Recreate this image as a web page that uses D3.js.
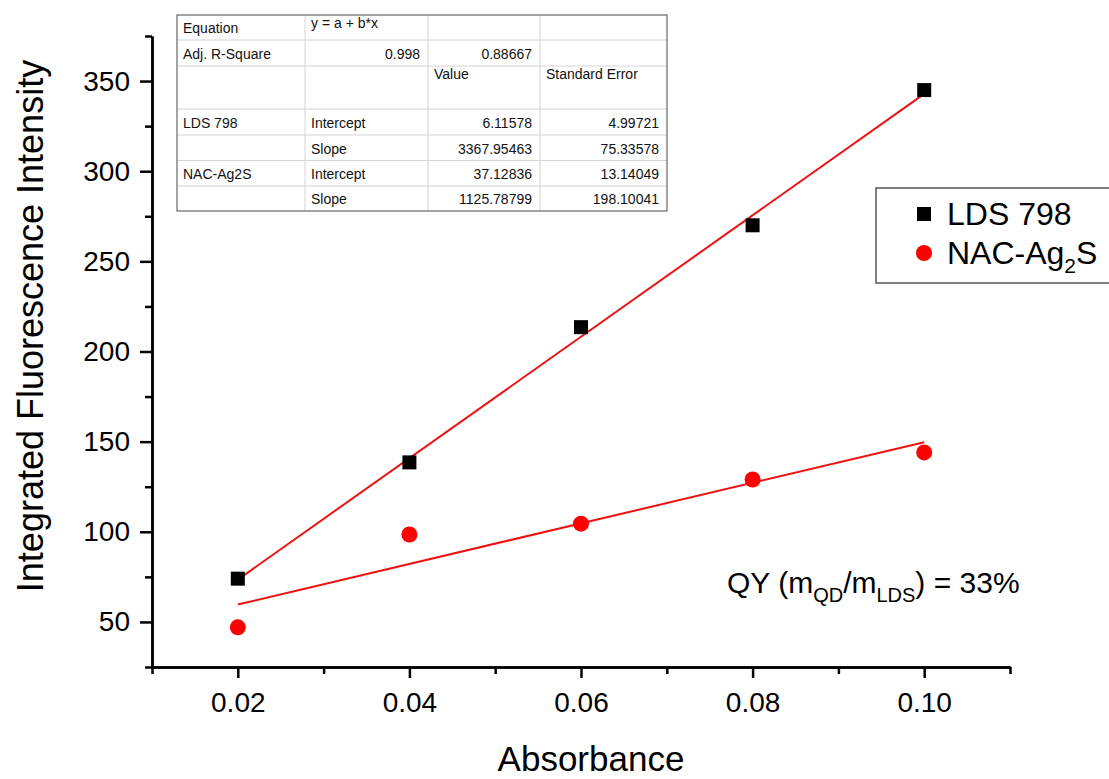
<!DOCTYPE html>
<html lang="en">
<head>
<meta charset="UTF-8">
<title>Integrated fluorescence vs absorbance</title>
<script src="https://cdn.jsdelivr.net/npm/d3@7"></script>
<style>
  body { margin: 0; background: #fff; }
  svg { font-family: "Liberation Sans", Arial, sans-serif; }
</style>
</head>
<body>
<svg width="1109" height="779"></svg>
<script>
// data
var absorbance = [0.02, 0.04, 0.06, 0.08, 0.10];
var lds798 = [74, 138.5, 213.5, 270, 345];
var nacAg2S = [47, 98.5, 104.5, 129, 144];
var seriesNames = ["LDS 798", "NAC-Ag2S"];
var fitIntercept = [6.11578, 37.12836];
var fitSlope = [3367.95463, 1125.78799];
var xMajor = [0.02, 0.04, 0.06, 0.08, 0.10];
var xMinor = [0.01, 0.03, 0.05, 0.07, 0.09, 0.11];
var yMajor = [50, 100, 150, 200, 250, 300, 350];
var yMinor = [25, 75, 125, 175, 225, 275, 325, 375];
var tableRows = [
  ["Equation", "y = a + b*x", "", ""],
  ["Adj. R-Square", "0.998", "0.88667", ""],
  ["", "", "Value", "Standard Error"],
  ["LDS 798", "Intercept", "6.11578", "4.99721"],
  ["", "Slope", "3367.95463", "75.33578"],
  ["NAC-Ag2S", "Intercept", "37.12836", "13.14049"],
  ["", "Slope", "1125.78799", "198.10041"]
];

var svg = d3.select("svg");

var x = d3.scaleLinear().domain([0.01, 0.11]).range([152, 1010]);
var y = d3.scaleLinear().domain([25, 375]).range([667, 36]);

function styleAxis(g) {
  g.selectAll("path").attr("stroke", "#000").attr("stroke-width", 2.5);
  g.selectAll("line").attr("stroke", "#000").attr("stroke-width", 2.5);
  g.selectAll("text").attr("fill", "#000").attr("font-size", 28);
}

// x axis
svg.append("g")
  .attr("transform", "translate(0,667)")
  .call(d3.axisBottom(x).tickValues(xMajor).tickSize(11).tickSizeOuter(0).tickPadding(14)
    .tickFormat(d3.format(".2f")))
  .call(styleAxis);
svg.append("g")
  .attr("transform", "translate(0,667)")
  .call(d3.axisBottom(x).tickValues(xMinor).tickSize(7).tickSizeOuter(0).tickFormat(""))
  .call(styleAxis);

// y axis
svg.append("g")
  .attr("transform", "translate(152,0)")
  .call(d3.axisLeft(y).tickValues(yMajor).tickSize(12).tickSizeOuter(0).tickPadding(10))
  .call(styleAxis);
svg.append("g")
  .attr("transform", "translate(152,0)")
  .call(d3.axisLeft(y).tickValues(yMinor).tickSize(7).tickSizeOuter(0).tickFormat(""))
  .call(styleAxis);

// axis titles
svg.append("text")
  .attr("x", 591).attr("y", 771)
  .attr("text-anchor", "middle")
  .attr("font-size", 35)
  .text("Absorbance");
svg.append("text")
  .attr("transform", "translate(43,326) rotate(-90)")
  .attr("text-anchor", "middle")
  .attr("font-size", 36)
  .text("Integrated Fluorescence Intensity");

// fit lines
fitIntercept.forEach(function (a, i) {
  var ends = [absorbance[0], absorbance[absorbance.length - 1]];
  svg.append("path")
    .datum(ends)
    .attr("d", d3.line().x(function (d) { return x(d); })
      .y(function (d) { return y(a + fitSlope[i] * d); }))
    .attr("stroke", "#ee1111")
    .attr("stroke-width", 2)
    .attr("fill", "none");
});

// points
svg.append("g").selectAll("rect")
  .data(lds798)
  .join("rect")
  .attr("x", function (d, i) { return x(absorbance[i]) - 7; })
  .attr("y", function (d) { return y(d) - 7; })
  .attr("width", 14).attr("height", 14)
  .attr("fill", "#000");
svg.append("g").selectAll("circle")
  .data(nacAg2S)
  .join("circle")
  .attr("cx", function (d, i) { return x(absorbance[i]); })
  .attr("cy", function (d) { return y(d); })
  .attr("r", 8)
  .attr("fill", "#ff0000");

// legend
var legend = svg.append("g");
legend.append("rect")
  .attr("x", 876).attr("y", 188).attr("width", 240).attr("height", 95)
  .attr("fill", "#fff").attr("stroke", "#555").attr("stroke-width", 1.5);
legend.append("rect")
  .attr("x", 917).attr("y", 207).attr("width", 14).attr("height", 14).attr("fill", "#000");
legend.append("circle")
  .attr("cx", 924).attr("cy", 253).attr("r", 8).attr("fill", "#ff0000");
legend.append("text")
  .attr("x", 947).attr("y", 225).attr("font-size", 32)
  .text(seriesNames[0]);
var leg2 = legend.append("text")
  .attr("x", 947).attr("y", 264).attr("font-size", 32);
leg2.append("tspan").text("NAC-Ag");
leg2.append("tspan").attr("font-size", 21).attr("dy", 9).text("2");
leg2.append("tspan").attr("dy", -9).text("S");

// QY annotation
var qy = svg.append("text")
  .attr("x", 727).attr("y", 593).attr("font-size", 30);
qy.append("tspan").text("QY (m");
qy.append("tspan").attr("font-size", 20).attr("dy", 9).text("QD");
qy.append("tspan").attr("dy", -9).text("/m");
qy.append("tspan").attr("font-size", 20).attr("dy", 9).text("LDS");
qy.append("tspan").attr("dy", -9).text(") = 33%");

// fit results table
var colX = [177, 305, 428, 540, 667];
var rowY = [15, 40, 66, 109, 135, 160.5, 186, 211];
var table = svg.append("g").attr("font-size", 14).attr("fill", "#111");
table.append("rect")
  .attr("x", colX[0]).attr("y", rowY[0])
  .attr("width", colX[4] - colX[0]).attr("height", rowY[7] - rowY[0])
  .attr("fill", "#fff").attr("stroke", "none");
rowY.slice(1, -1).forEach(function (ry) {
  table.append("line")
    .attr("x1", colX[0]).attr("x2", colX[4]).attr("y1", ry).attr("y2", ry)
    .attr("stroke", "#d4d4d4").attr("stroke-width", 1);
});
colX.slice(1, -1).forEach(function (cx) {
  table.append("line")
    .attr("x1", cx).attr("x2", cx).attr("y1", rowY[0]).attr("y2", rowY[7])
    .attr("stroke", "#d4d4d4").attr("stroke-width", 1);
});
table.append("rect")
  .attr("x", colX[0]).attr("y", rowY[0])
  .attr("width", colX[4] - colX[0]).attr("height", rowY[7] - rowY[0])
  .attr("fill", "none").attr("stroke", "#666").attr("stroke-width", 1.2);

tableRows.forEach(function (row, r) {
  row.forEach(function (cell, c) {
    if (!cell) return;
    var isNum = !isNaN(+cell);
    var ty = (r === 2) ? rowY[r] + 13 : rowY[r + 1] - 7;
    if (r === 0 && c === 1) ty = rowY[r] + 13;
    table.append("text")
      .attr("x", isNum ? colX[c + 1] - 8 : colX[c] + 6)
      .attr("y", ty)
      .attr("text-anchor", isNum ? "end" : "start")
      .text(cell);
  });
});
</script>
</body>
</html>
